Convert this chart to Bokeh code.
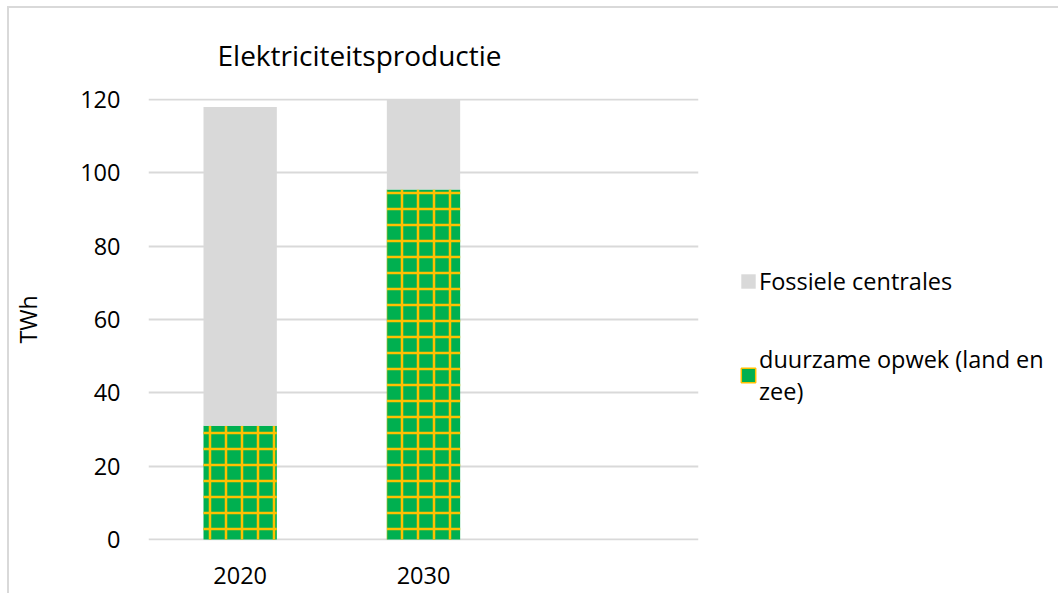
from bokeh.plotting import figure
from bokeh.models import FactorRange, Range1d, Legend, LegendItem, ColumnDataSource
from bokeh.embed import file_html
from bokeh.resources import INLINE

categories = ["2020", "2030"]
axis_factors = ["2020", "2030", " "]
duurzaam = [31, 95.5]
fossiel = [87, 24.5]
y_ticks = [0, 20, 40, 60, 80, 100, 120]
title_text = "Elektriciteitsproductie"
y_label = "TWh"
label_fossiel = "Fossiele centrales"
label_duurzaam = "duurzame opwek (land en\nzee)"

GREEN = "#00b050"
ORANGE = "#ffc000"
GRAY = "#d9d9d9"
FONT = "Open Sans"

src = ColumnDataSource(dict(cat=categories, duurzaam=duurzaam, fossiel=fossiel))

p = figure(width=1042, height=585, output_backend="svg", toolbar_location=None,
           x_range=FactorRange(factors=axis_factors, range_padding=0),
           y_range=Range1d(-0.3, 120.3),
           frame_width=550, frame_height=442,
           min_border_left=137, min_border_right=355, min_border_top=90, min_border_bottom=53)
p.styles = {"margin-left": "7px", "margin-top": "6px",
            "border-left": "2px solid #d9d9d9", "border-top": "2px solid #d9d9d9"}
p.outline_line_color = None

r = p.vbar_stack(["duurzaam", "fossiel"], x="cat", width=0.4, source=src,
                 fill_color=[GREEN, GRAY], line_color=None,
                 hatch_pattern=["+", " "], hatch_color=[ORANGE, GRAY],
                 hatch_scale=[16, 16], hatch_weight=[2.5, 0.1])

# legend swatches (hidden renderers, only their look is used by the legend)
leg_fossiel = p.vbar(x="cat", top="fossiel", width=0.4, source=src,
                     fill_color=GRAY, line_color=None, visible=False)
leg_duurzaam = p.vbar(x="cat", top="duurzaam", width=0.4, source=src,
                      fill_color=GREEN, line_color=ORANGE, line_width=1.5, visible=False)

p.title.text = title_text
p.title.text_font = FONT
p.title.text_font_size = "28px"
p.title.text_font_style = "normal"
p.title.text_color = "#000000"
p.title.align = "left"
p.title.offset = 69
p.title.standoff = 50

p.xgrid.grid_line_color = None
p.ygrid.grid_line_color = GRAY
p.ygrid.grid_line_width = 2
p.yaxis.ticker = y_ticks

for ax in (p.xaxis[0], p.yaxis[0]):
    ax.axis_line_color = None
    ax.major_tick_line_color = None
    ax.minor_tick_line_color = None
    ax.major_label_text_font = FONT
    ax.major_label_text_font_size = "23.5px"
    ax.major_label_text_color = "#000000"

p.yaxis.major_label_standoff = 22
p.xaxis.major_label_standoff = 12
p.yaxis.axis_label = y_label
p.yaxis.axis_label_text_font = FONT
p.yaxis.axis_label_text_font_size = "23px"
p.yaxis.axis_label_text_font_style = "normal"
p.yaxis.axis_label_text_color = "#000000"
p.yaxis.axis_label_standoff = 33

legend = Legend(items=[LegendItem(label=label_fossiel, renderers=[leg_fossiel]),
                       LegendItem(label=label_duurzaam, renderers=[leg_duurzaam])],
                location=(41, 133), orientation="vertical", click_policy="none",
                border_line_color=None, background_fill_alpha=0,
                glyph_width=18, glyph_height=18, label_standoff=2,
                spacing=46, padding=0, margin=0,
                label_text_font=FONT, label_text_font_size="23.5px", label_text_color="#000000")
p.add_layout(legend, "right")

open("out.html", "w").write(file_html(p, INLINE))
